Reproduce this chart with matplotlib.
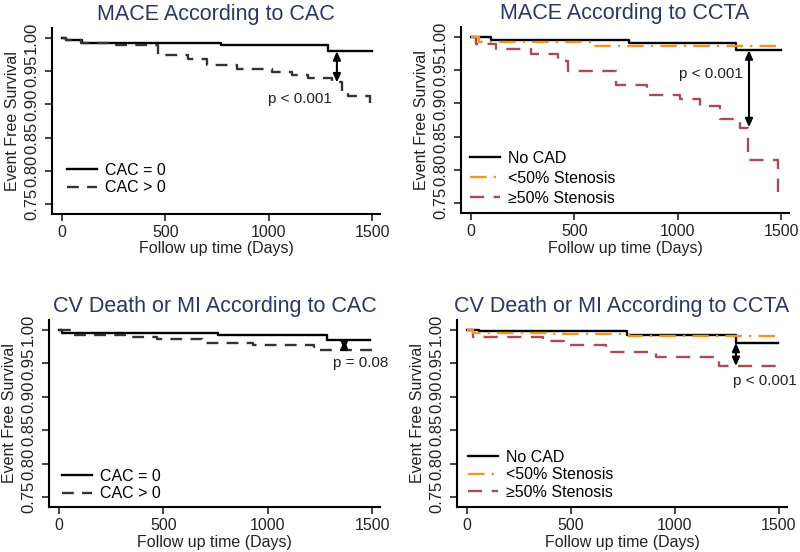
import matplotlib
matplotlib.use("Agg")
import matplotlib.pyplot as plt

plt.rcParams['font.family'] = ['Liberation Sans', 'DejaVu Sans']

# ---------------- data ----------------
# Panel A: MACE according to CAC
a_cac0_t = [0, 20, 95, 770, 1285, 1500]
a_cac0_s = [1.0, 0.997, 0.993, 0.990, 0.980, 0.980]
a_cacp_t = [0, 20, 90, 240, 465, 610, 700, 846, 1015, 1113, 1190, 1306, 1355, 1384, 1490]
a_cacp_s = [1.0, 0.997, 0.993, 0.9895, 0.974, 0.968, 0.960, 0.953, 0.949, 0.945, 0.939,
            0.933, 0.919, 0.912, 0.899]

# Panel B: MACE according to CCTA
b_nocad_t = [0, 97, 762, 1280, 1500]
b_nocad_s = [1.0, 0.9955, 0.991, 0.980, 0.980]
b_lt50_t = [0, 40, 590, 1500]
b_lt50_s = [1.0, 0.993, 0.987, 0.987]
b_ge50_t = [0, 25, 120, 290, 420, 470, 700, 850, 1010, 1110, 1205, 1300, 1342, 1487]
b_ge50_s = [1.0, 0.990, 0.982, 0.974, 0.964, 0.949, 0.928, 0.912, 0.906, 0.896, 0.877,
            0.863, 0.815, 0.766]

# Panel C: CV death or MI according to CAC
c_cac0_t = [0, 15, 763, 1283, 1490]
c_cac0_s = [1.0, 0.9955, 0.992, 0.9846, 0.9846]
c_cacp_t = [0, 60, 345, 470, 685, 930, 1220, 1500]
c_cacp_s = [1.0, 0.993, 0.989, 0.986, 0.980, 0.977, 0.9705, 0.9705]

# Panel D: CV death or MI according to CCTA
d_nocad_t = [0, 60, 768, 1295, 1495]
d_nocad_s = [1.0, 0.998, 0.992, 0.981, 0.981]
d_lt50_t = [0, 30, 420, 780, 1500]
d_lt50_s = [1.0, 0.996, 0.994, 0.991, 0.991]
d_ge50_t = [0, 30, 365, 465, 670, 910, 1210, 1500]
d_ge50_s = [1.0, 0.989, 0.984, 0.978, 0.967, 0.960, 0.946, 0.946]

titles = ["MACE According to CAC", "MACE According to CCTA",
          "CV Death or MI According to CAC", "CV Death or MI According to CCTA"]
cac_labels = ["CAC = 0", "CAC > 0"]
ccta_labels = ["No CAD", "<50% Stenosis", "\u226550% Stenosis"]
xticks = [0, 500, 1000, 1500]
yticks = [0.75, 0.80, 0.85, 0.90, 0.95, 1.00]

# arrows: (x, y_top, y_bottom), p-value text (x, y, text, ha)
arrows = [(1330, 0.980, 0.933), (1345, 0.980, 0.864), (1367, 0.9846, 0.9705), (1293, 0.981, 0.946)]
ptexts = [(1152, 0.908, "p < 0.001", "center"), (1161, 0.944, "p < 0.001", "center"),
          (1447, 0.951, "p = 0.08", "center"), (1280, 0.924, "p < 0.001", "left")]

# ---------------- style ----------------
W, H = 800, 552
fig = plt.figure(figsize=(8.0, 5.52), dpi=100)
title_color = '#2b3566'
orange = '#F39322'
red = '#A84B57'

def px_axes(left, top, width, height):
    return fig.add_axes([left / W, 1 - (top + height) / H, width / W, height / H])

axes = [px_axes(51.7, 28, 328.6, 186),
        px_axes(460.7, 27, 328.6, 186),
        px_axes(48.6, 320, 331.8, 187),
        px_axes(456.6, 320, 330.7, 187)]

for i, ax in enumerate(axes):
    ax.set_xlim(-50, 1540)
    ax.set_ylim(0.735, 1.015)
    for s in ['top', 'right']:
        ax.spines[s].set_visible(False)
    for s in ['left', 'bottom']:
        ax.spines[s].set_linewidth(1.5)
    ax.set_xticks(xticks)
    ax.set_yticks(yticks)
    ax.set_yticklabels([f"{v:.2f}" for v in yticks], rotation=90, va='center', fontsize=12)
    ax.tick_params(axis='both', direction='out', length=5, width=1.2,
                   color='#222222', labelcolor='#222222')
    ax.tick_params(axis='x', labelsize=11.5, pad=3)
    ax.tick_params(axis='y', pad=4)
    ax.set_xlabel("Follow up time (Days)", fontsize=11.5, labelpad=1, color='#222222')
    ax.set_ylabel("Event Free Survival", fontsize=11.5, labelpad=3, color='#222222')
    ax.set_title(titles[i], fontsize=15.5, color=title_color, pad=6)

def cac_panel(ax, t0, s0, t1, s1):
    ax.plot(t0, s0, drawstyle='steps-post', color='black', lw=1.7, label=cac_labels[0])
    ax.plot(t1, s1, drawstyle='steps-post', color='#333333', lw=1.7,
            dashes=(5, 3.5), label=cac_labels[1])

def ccta_panel(ax, tn, sn, tl, sl, tg, sg):
    ax.plot(tn, sn, drawstyle='steps-post', color='black', lw=1.7, label=ccta_labels[0], zorder=3)
    ax.plot(tl, sl, drawstyle='steps-post', color=orange, lw=1.7,
            dashes=(7, 3, 1, 3), label=ccta_labels[1], zorder=4)
    ax.plot(tg, sg, drawstyle='steps-post', color=red, lw=1.7,
            dashes=(6, 4), label=ccta_labels[2], zorder=2)

cac_panel(axes[0], a_cac0_t, a_cac0_s, a_cacp_t, a_cacp_s)
ccta_panel(axes[1], b_nocad_t, b_nocad_s, b_lt50_t, b_lt50_s, b_ge50_t, b_ge50_s)
cac_panel(axes[2], c_cac0_t, c_cac0_s, c_cacp_t, c_cacp_s)
ccta_panel(axes[3], d_nocad_t, d_nocad_s, d_lt50_t, d_lt50_s, d_ge50_t, d_ge50_s)

for ax, (x, y0, y1), (tx, ty, txt, ha) in zip(axes, arrows, ptexts):
    ax.annotate("", xy=(x, y1), xytext=(x, y0),
                arrowprops=dict(arrowstyle='<|-|>,head_width=0.22,head_length=0.5',
                                color='black', lw=1.5, shrinkA=0, shrinkB=0))
    ax.text(tx, ty, txt, ha=ha, va='center', fontsize=11, color='#222222', clip_on=False)

leg_pos = [(0.047, 0.10), (0.028, 0.04), (0.04, 0.03), (0.034, 0.04)]
leg_space = [0.15, 0.3, 0.15, 0.15]
for ax, pos, ls in zip(axes, leg_pos, leg_space):
    ax.legend(loc='lower left', bbox_to_anchor=pos, frameon=False, fontsize=11.5,
              borderpad=0, borderaxespad=0, handlelength=1.9, handletextpad=0.5,
              labelspacing=ls)

fig.savefig("out.png", dpi=100)
